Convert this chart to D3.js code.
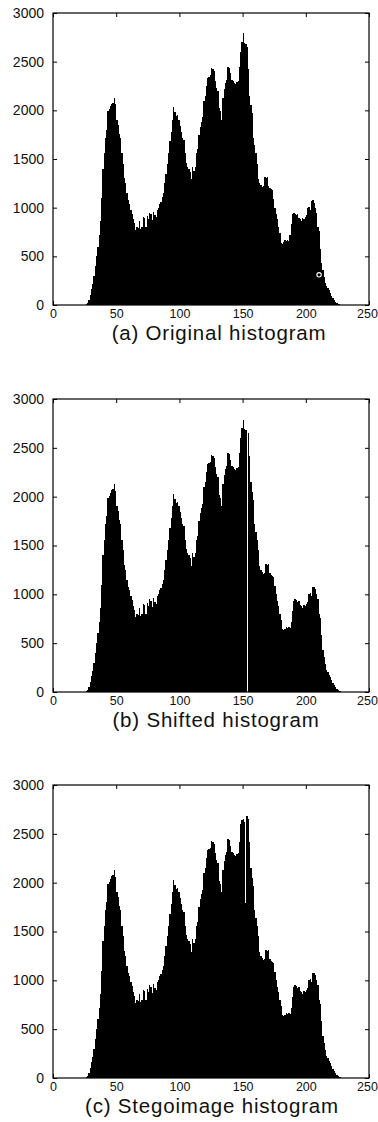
<!DOCTYPE html>
<html>
<head>
<meta charset="utf-8">
<script src="https://cdn.jsdelivr.net/npm/d3@7"></script>
<style>
  html, body { margin: 0; padding: 0; background: #fff; }
  svg { display: block; }
  text { font-family: "Liberation Sans", Arial, Helvetica, sans-serif; fill: #111; }
</style>
</head>
<body>
<svg id="chart" width="378" height="1122"></svg>
<script>
// ---------- DATA ----------
const xTicks = [0, 50, 100, 150, 200, 250];
const yTicks = [0, 500, 1000, 1500, 2000, 2500, 3000];
const captions = ["(a) Original histogram", "(b) Shifted histogram", "(c) Stegoimage histogram"];

// gray levels 0..250, pixel counts per level
const originalCounts = [
  0,0,0,0,0,0,0,0,0,0, 0,0,0,0,0,0,0,0,0,0, 0,0,0,0,0,0,
  10,20,50,100,160,220,300,400,500,600,
  720,860,1100,1400,1560,1720,1800,1990,2010,2040,2070,2080,2130,2060,
  1900,1850,1760,1720,1560,1450,1300,1250,1150,1080,1040,980,940,880,840,770,
  800,790,860,780,800,900,890,800,910,880,950,930,870,960,920,900,980,1000,1040,1060,
  1110,1150,1250,1350,1450,1560,1680,1780,1900,2030,1980,1940,1950,1900,1840,1780,1720,1700,1560,1460,1420,1400,1370,1290,
  1420,1380,1420,1560,1600,1750,1830,1880,1930,2100,2150,2250,2330,2340,2360,2430,2420,2400,2300,2230,2200,2020,1990,1900,
  2130,2220,2280,2310,2450,2440,2380,2310,2300,2280,2270,2290,2300,2450,2600,2700,2790,2690,2680,2650,2420,2150,2050,1970,
  1720,1640,1560,1450,1290,1250,1230,1210,1220,1310,1300,1310,1220,1200,1190,1180,1090,1000,930,880,800,740,640,630,
  650,670,660,670,660,720,830,930,950,940,920,930,890,880,860,890,880,900,920,1000,1010,980,1070,1080,1050,1000,950,800,
  760,580,430,360,290,230,200,170,150,120,95,70,50,35,22,14,9,5,3,1,0,
  0,0,0,0,0,0,0,0,0,0, 0,0,0,0,0,0,0,0,0,0
];

const shiftedCounts = [
  0,0,0,0,0,0,0,0,0,0, 0,0,0,0,0,0,0,0,0,0, 0,0,0,0,0,0,
  10,20,50,100,160,220,300,400,500,600,
  720,860,1100,1400,1560,1720,1800,1990,2010,2040,2070,2080,2130,2060,
  1900,1850,1760,1720,1560,1450,1300,1250,1150,1080,1040,980,940,880,840,770,
  800,790,860,780,800,900,890,800,910,880,950,930,870,960,920,900,980,1000,1040,1060,
  1110,1150,1250,1350,1450,1560,1680,1780,1900,2030,1980,1940,1950,1900,1840,1780,1720,1700,1560,1460,1420,1400,1370,1290,
  1420,1380,1420,1560,1600,1750,1830,1880,1930,2100,2150,2250,2330,2340,2360,2430,2420,2400,2300,2230,2200,2020,1990,1900,
  2130,2220,2280,2310,2450,2440,2380,2310,2300,2280,2270,2290,2300,2450,2600,2700,2790,2690,2680,0,2650,2420,2150,2050,
  1970,1720,1640,1560,1450,1290,1250,1230,1210,1220,1310,1300,1310,1220,1200,1190,1180,1090,1000,930,880,800,740,640,
  630,650,670,660,670,660,720,830,930,950,940,920,930,890,880,860,890,880,900,920,1000,1010,980,1070,1080,1050,1000,950,
  800,760,580,430,360,290,230,200,170,150,120,95,70,50,35,22,14,9,5,3,1,
  0,0,0,0,0,0,0,0,0,0, 0,0,0,0,0,0,0,0,0,0
];

const stegoCounts = [
  0,0,0,0,0,0,0,0,0,0, 0,0,0,0,0,0,0,0,0,0, 0,0,0,0,0,0,
  10,20,50,100,160,220,300,400,500,600,
  720,860,1100,1400,1560,1720,1800,1990,2010,2040,2070,2080,2130,2060,
  1900,1850,1760,1720,1560,1450,1300,1250,1150,1080,1040,980,940,880,840,770,
  800,790,860,780,800,900,890,800,910,880,950,930,870,960,920,900,980,1000,1040,1060,
  1110,1150,1250,1350,1450,1560,1680,1780,1900,2030,1980,1940,1950,1900,1840,1780,1720,1700,1560,1460,1420,1400,1370,1290,
  1420,1380,1420,1560,1600,1750,1830,1880,1930,2100,2150,2250,2330,2340,2360,2430,2420,2400,2300,2230,2200,2020,1990,1900,
  2130,2220,2280,2310,2450,2440,2380,2310,2300,2280,2270,2290,2300,2420,2600,2640,2650,2620,1790,2680,2650,2420,2150,2050,
  1970,1720,1640,1560,1450,1290,1250,1230,1210,1220,1310,1300,1310,1220,1200,1190,1180,1090,1000,930,880,800,740,640,
  630,650,670,660,670,660,720,830,930,950,940,920,930,890,880,860,890,880,900,920,1000,1010,980,1070,1080,1050,1000,950,
  800,760,580,430,360,290,230,200,170,150,120,95,70,50,35,22,14,9,5,3,1,
  0,0,0,0,0,0,0,0,0,0, 0,0,0,0,0,0,0,0,0,0
];

// small white circle marker seen in panel (a): [grayLevel, count]
const markerA = [[210.5, 310]];

// ---------- LAYOUT ----------
const panels = [
  { counts: originalCounts, top: 13,  bottom: 305,  capX: 219, capY: 340,  markers: markerA },
  { counts: shiftedCounts,  top: 399, bottom: 692,  capX: 216, capY: 727,  markers: [] },
  { counts: stegoCounts,    top: 785, bottom: 1078, capX: 212, capY: 1113, markers: [] }
];
const left = 53, right = 369;

const svg = d3.select("#chart");
const x = d3.scaleLinear().domain([0, 250]).range([left, right]);

panels.forEach((p, pi) => {
  const y = d3.scaleLinear().domain([0, 3000]).range([p.bottom, p.top]);
  const g = svg.append("g");

  // bars
  const bins = p.counts.map((v, i) => ({ i, v })).filter(d => d.v > 0 && d.i < 250);
  g.append("g").selectAll("rect").data(bins).join("rect")
    .attr("x", d => x(d.i))
    .attr("width", d => x(d.i + 1) - x(d.i) + 0.15)
    .attr("y", d => y(d.v))
    .attr("height", d => y(0) - y(d.v))
    .attr("fill", "#000")
    .attr("shape-rendering", "crispEdges");

  // marker(s)
  g.selectAll("circle").data(p.markers).join("circle")
    .attr("cx", d => x(d[0])).attr("cy", d => y(d[1]))
    .attr("r", 2.2).attr("fill", "none")
    .attr("stroke", "#fff").attr("stroke-width", 1.1);

  // axes
  const axL = g.append("g").attr("transform", `translate(${left},0)`)
    .call(d3.axisLeft(y).tickValues(yTicks).tickFormat(d3.format("d"))
      .tickSizeInner(-4).tickSizeOuter(0).tickPadding(9));
  axL.selectAll("text").attr("font-size", 14).attr("font-family", "Liberation Sans, Arial, sans-serif");

  const axB = g.append("g").attr("transform", `translate(0,${p.bottom})`)
    .call(d3.axisBottom(x).tickValues(xTicks).tickFormat(d3.format("d"))
      .tickSizeInner(-4).tickSizeOuter(0).tickPadding(4));
  axB.selectAll("text").attr("font-size", 12.5).attr("font-family", "Liberation Sans, Arial, sans-serif")
    .attr("dx", d => d === 250 ? -2 : 0);

  g.append("g").attr("transform", `translate(${right},0)`)
    .call(d3.axisRight(y).tickValues(yTicks).tickFormat("").tickSizeInner(-4).tickSizeOuter(0));
  g.append("g").attr("transform", `translate(0,${p.top})`)
    .call(d3.axisTop(x).tickValues(xTicks).tickFormat("").tickSizeInner(-4).tickSizeOuter(0));

  g.selectAll(".domain").remove();
  g.selectAll(".tick line").attr("stroke", "#000");

  // frame
  g.append("rect")
    .attr("x", left).attr("y", p.top)
    .attr("width", right - left).attr("height", p.bottom - p.top)
    .attr("fill", "none").attr("stroke", "#000").attr("stroke-width", 1.2);

  // caption
  g.append("text")
    .attr("x", p.capX).attr("y", p.capY)
    .attr("text-anchor", "middle")
    .attr("font-size", 20.5)
    .attr("letter-spacing", "0.8px")
    .text(captions[pi]);
});
</script>
</body>
</html>
